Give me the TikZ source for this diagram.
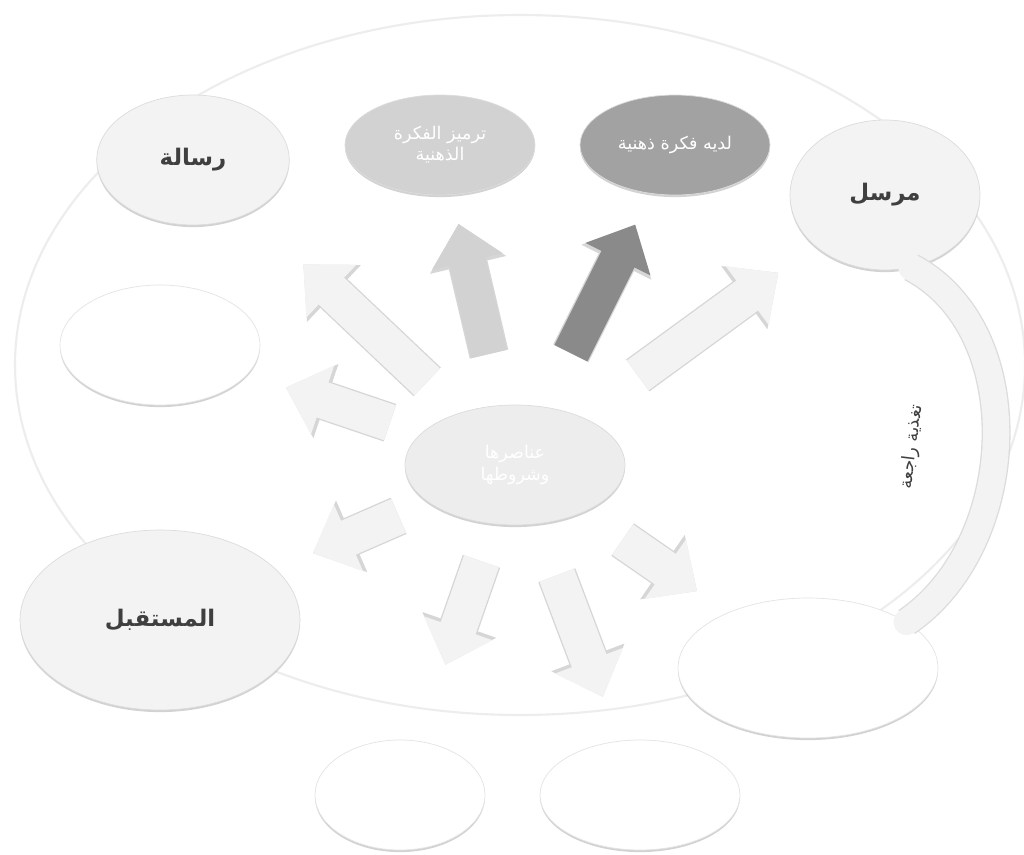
\documentclass[tikz,border=0pt]{standalone}
\usepackage{fontspec}
\newfontfamily\arabicfont[Script=Arabic]{DejaVu Sans}
\TeXXeTstate=1
\usetikzlibrary{arrows.meta,shapes.geometric,shadows}
\definecolor{CommRing}{HTML}{EDEDED}
\definecolor{CommPale}{HTML}{F3F3F3}
\definecolor{CommEdge}{HTML}{C4C4C4}
\definecolor{CommMid}{HTML}{D2D2D2}
\definecolor{CommDark}{HTML}{A2A2A2}
\definecolor{CommText}{HTML}{3F3F3F}

\begin{document}
\begin{tikzpicture}[x=0.02cm,y=-0.02cm,
    bubble/.style={ellipse, inner sep=0pt, fill=CommPale, draw=CommEdge!60,
      drop shadow={shadow xshift=0pt, shadow yshift=-1.2pt, opacity=0.35}},
    ghost/.style={bubble, fill=white, draw=CommEdge!45},
    label/.style={text=CommText, font=\arabicfont\bfseries\fontsize{13}{15}\selectfont},
    whitelabel/.style={text=white, align=center, font=\arabicfont\fontsize{10}{12}\selectfont},
    fatarrow/.style={line width=21pt, CommPale,
      -{Triangle[length=22pt,width=40pt]},
      preaction={draw=CommEdge!70, line width=22.5pt, -{Triangle[length=24pt,width=43pt]}}}
  ]

    \fill[white] (0,0) rectangle (1024,855);
    \useasboundingbox (0,0) rectangle (1024,855);

    % big ring behind everything
    \draw[CommRing,line width=1.2pt]
      (520,365) ellipse [x radius=505, y radius=350];

    % outer elements
    \node[bubble, minimum width=3.85cm, minimum height=2.6cm] (msg) at (193,160) {};
    \node[bubble, fill=CommMid, minimum width=3.8cm, minimum height=2cm] (enc) at (440,145) {};
    \node[bubble, fill=CommDark, minimum width=3.8cm, minimum height=2cm] (idea) at (675,145) {};
    \node[bubble, minimum width=3.8cm, minimum height=3cm] (snd) at (885,195) {};
    \node[ghost, minimum width=4cm, minimum height=2.4cm] (lft) at (160,345) {};
    \node[bubble, minimum width=5.6cm, minimum height=3.6cm] (rcv) at (160,620) {};
    \node[ghost, minimum width=5.2cm, minimum height=2.8cm] (brt) at (808,668) {};
    \node[ghost, minimum width=3.4cm, minimum height=2.2cm] (btl) at (400,795) {};
    \node[ghost, minimum width=4cm, minimum height=2.2cm] (btr) at (640,795) {};

    % feedback band
    \draw[line width=15pt, CommPale, line cap=round,
      preaction={draw=CommEdge!60, line width=16.5pt}]
      (snd.-70) .. controls (1030,330) and (1020,545) .. (brt.25);

    % centre
    \node[bubble, fill=CommRing, minimum width=4.4cm, minimum height=2.4cm] (ctr) at (515,465) {};

    % arrows out of the centre
    \draw[fatarrow, shorten <=2.42cm, shorten >=3.04cm] (ctr.center) -- (msg.center);
    \draw[fatarrow, CommMid, shorten <=2.28cm, shorten >=1.62cm] (ctr.center) -- (enc.center);
    \draw[fatarrow, CommDark!85!black, shorten <=2.5cm, shorten >=1.78cm] (ctr.center) -- (idea.center);
    \draw[fatarrow, shorten <=3.04cm, shorten >=2.64cm] (ctr.center) -- (snd.center);
    \draw[fatarrow, shorten <=2.64cm, shorten >=2.66cm] (ctr.center) -- (lft.center);
    \draw[fatarrow, shorten <=2.54cm, shorten >=3.34cm] (ctr.center) -- (rcv.center);
    \draw[fatarrow, shorten <=2.04cm, shorten >=2.76cm] (ctr.center) -- (btl.center);
    \draw[fatarrow, shorten <=2.36cm, shorten >=2.1cm] (ctr.center) -- (btr.center);
    \draw[fatarrow, shorten <=2.62cm, shorten >=2.7cm] (ctr.center) -- (brt.center);

    % texts
    \node[label] at (msg) {\beginR رسالة\endR};
    \node[label] at (snd) {\beginR مرسل\endR};
    \node[label] at (rcv) {\beginR المستقبل\endR};
    \node[whitelabel] at (enc) {\beginR ترميز الفكرة\endR\\\beginR الذهنية\endR};
    \node[whitelabel] at (idea) {\beginR لديه فكرة ذهنية\endR};
    \node[whitelabel] at (ctr) {\beginR عناصرها\endR\\\beginR وشروطها\endR};
    \node[text=CommText, rotate=83, font=\arabicfont\fontsize{10}{12}\selectfont]
      (fb) at (912,447) {\beginR تغذية راجعة\endR};

  \end{tikzpicture}
\end{document}
